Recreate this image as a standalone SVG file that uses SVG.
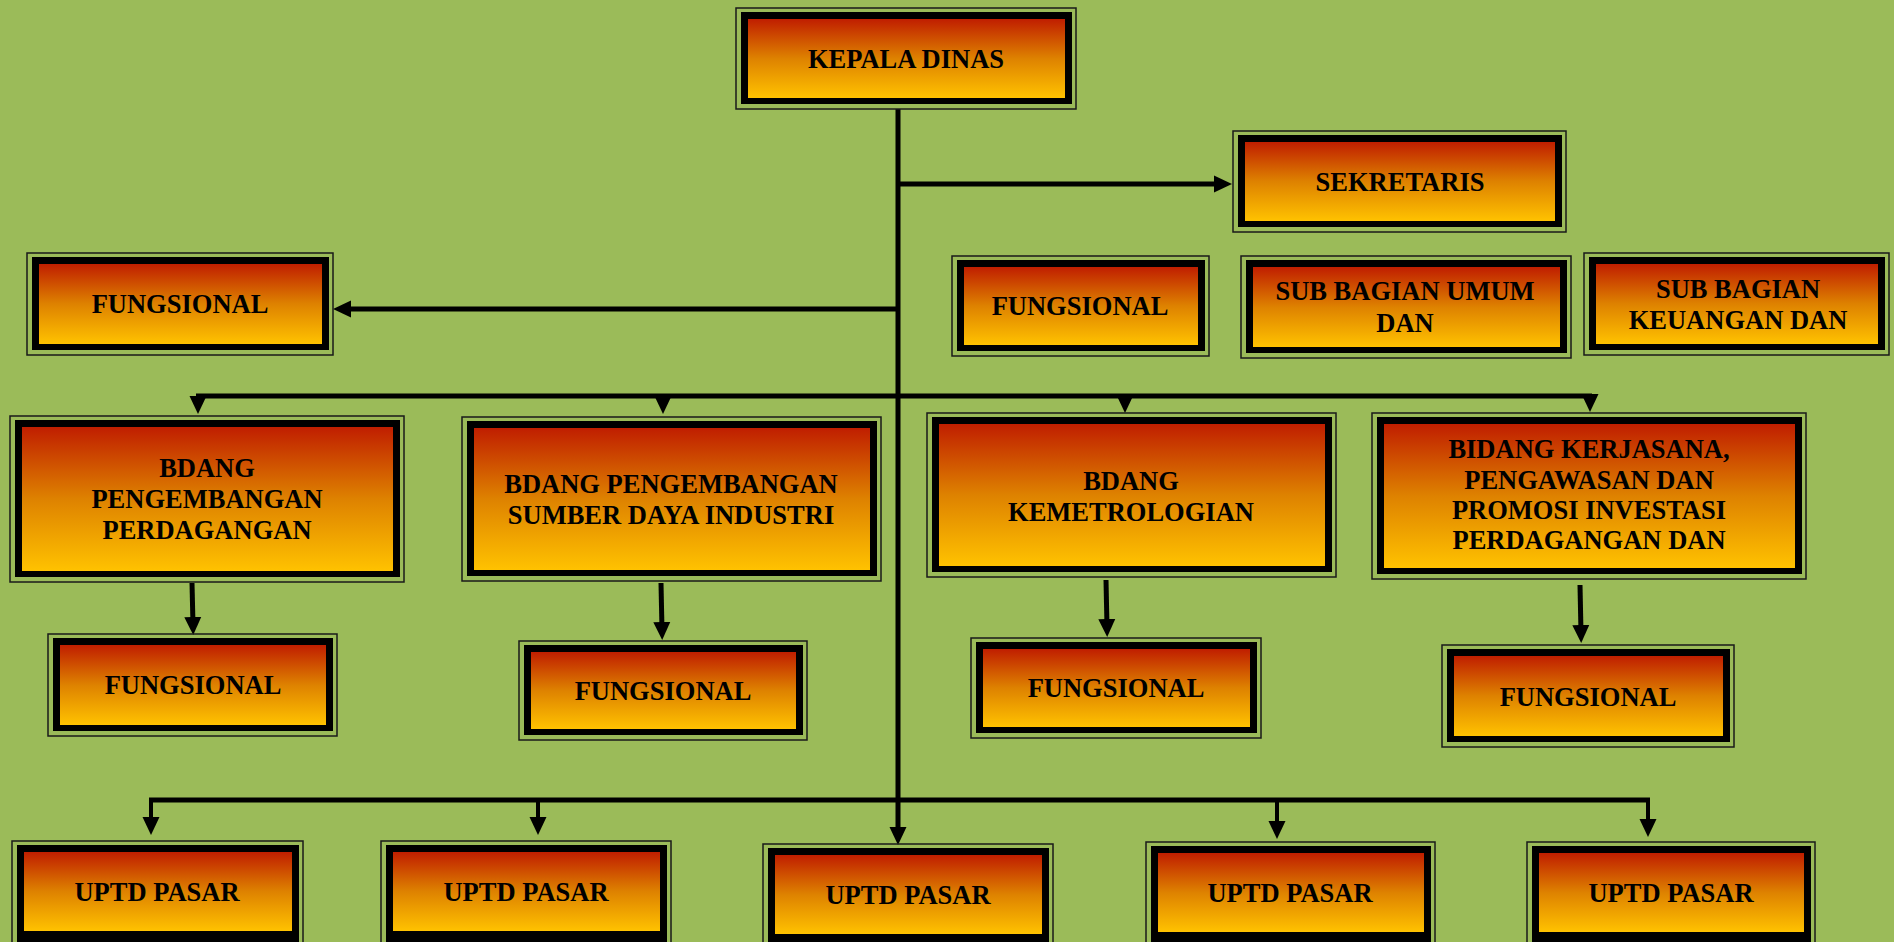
<svg xmlns="http://www.w3.org/2000/svg" width="1894" height="942" viewBox="0 0 1894 942">
<style>
.o{fill:none;stroke:#1a1a1a;stroke-width:1.5}
.b{fill:#000}
.g{fill:url(#grad)}
.t{font-family:"Liberation Serif","Times New Roman",serif;font-weight:bold;font-size:26.5px;fill:#000;text-anchor:middle}
.c{fill:none;stroke:#000;stroke-width:5}
.d{fill:none;stroke:#000;stroke-width:4}
</style>
<defs>
<linearGradient id="grad" x1="0" y1="0" x2="0" y2="1">
<stop offset="0" stop-color="#C01E00"/>
<stop offset="0.5" stop-color="#DE8200"/>
<stop offset="1" stop-color="#FFC200"/>
</linearGradient>
<marker id="ah" markerUnits="userSpaceOnUse" markerWidth="19" markerHeight="18" refX="8" refY="9" orient="auto">
<path d="M0,0.5 L18,9 L0,17.5 z" fill="#000"/>
</marker>
</defs>
<rect width="1894" height="942" fill="#9BBB59"/>

<g id="connectors">
<path class="c" d="M898,109 V835" marker-end="url(#ah)"/>
<path class="c" d="M898,184 H1222" marker-end="url(#ah)"/>
<path class="c" d="M898,309 H343" marker-end="url(#ah)"/>
<path class="c" d="M196,396 H1592"/>
<path class="d" d="M198,394 V404" marker-end="url(#ah)"/>
<path class="d" d="M663,394 V404" marker-end="url(#ah)"/>
<path class="d" d="M1125,394 V403" marker-end="url(#ah)"/>
<path class="d" d="M1590,394 V402" marker-end="url(#ah)"/>
<path class="c" d="M192,583 L193,625" marker-end="url(#ah)"/>
<path class="c" d="M661,583 L662,630" marker-end="url(#ah)"/>
<path class="c" d="M1106,580 L1107,627" marker-end="url(#ah)"/>
<path class="c" d="M1580,585 L1581,633" marker-end="url(#ah)"/>
<path class="c" d="M149,800 H1650"/>
<path class="d" d="M151,798 V825" marker-end="url(#ah)"/>
<path class="d" d="M538,798 V825" marker-end="url(#ah)"/>
<path class="d" d="M1277,798 V829" marker-end="url(#ah)"/>
<path class="d" d="M1648,798 V827" marker-end="url(#ah)"/>
</g>

<g id="kepala-dinas">
<rect class="o" x="736" y="8" width="340" height="101"/>
<rect class="b" x="741" y="12" width="331" height="92"/>
<rect class="g" x="748" y="19" width="317" height="79"/>
<text class="t" x="906" y="68">KEPALA DINAS</text>
</g>

<g id="sekretaris">
<rect class="o" x="1233" y="131" width="333" height="101"/>
<rect class="b" x="1238" y="135" width="324" height="92"/>
<rect class="g" x="1245" y="142" width="310" height="79"/>
<text class="t" x="1400" y="191">SEKRETARIS</text>
</g>

<g id="fungsional-kiri">
<rect class="o" x="27" y="253" width="306" height="102"/>
<rect class="b" x="32" y="257" width="297" height="93"/>
<rect class="g" x="39" y="264" width="283" height="80"/>
<text class="t" x="180" y="313">FUNGSIONAL</text>
</g>

<g id="fungsional-sekretariat">
<rect class="o" x="952" y="256" width="257" height="100"/>
<rect class="b" x="957" y="260" width="248" height="91"/>
<rect class="g" x="964" y="267" width="234" height="78"/>
<text class="t" x="1080" y="315">FUNGSIONAL</text>
</g>

<g id="sub-bagian-umum">
<rect class="o" x="1241" y="256" width="330" height="102"/>
<rect class="b" x="1246" y="260" width="321" height="93"/>
<rect class="g" x="1253" y="267" width="307" height="80"/>
<text class="t" x="1405" y="300">SUB BAGIAN UMUM</text>
<text class="t" x="1405" y="332">DAN</text>
</g>

<g id="sub-bagian-keuangan">
<rect class="o" x="1584" y="253" width="305" height="102"/>
<rect class="b" x="1589" y="257" width="296" height="93"/>
<rect class="g" x="1596" y="264" width="282" height="80"/>
<text class="t" x="1738" y="298">SUB BAGIAN</text>
<text class="t" x="1738" y="329">KEUANGAN DAN</text>
</g>

<g id="bidang-perdagangan">
<rect class="o" x="10" y="416" width="394" height="166"/>
<rect class="b" x="15" y="420" width="385" height="157"/>
<rect class="g" x="22" y="427" width="371" height="144"/>
<text class="t" x="207" y="477">BDANG</text>
<text class="t" x="207" y="508">PENGEMBANGAN</text>
<text class="t" x="207" y="539">PERDAGANGAN</text>
</g>

<g id="bidang-industri">
<rect class="o" x="462" y="417" width="419" height="164"/>
<rect class="b" x="467" y="421" width="410" height="155"/>
<rect class="g" x="474" y="428" width="396" height="142"/>
<text class="t" x="671" y="493">BDANG PENGEMBANGAN</text>
<text class="t" x="671" y="524">SUMBER DAYA INDUSTRI</text>
</g>

<g id="bidang-kemetrologian">
<rect class="o" x="927" y="413" width="409" height="164"/>
<rect class="b" x="932" y="417" width="400" height="155"/>
<rect class="g" x="939" y="424" width="386" height="142"/>
<text class="t" x="1131" y="490">BDANG</text>
<text class="t" x="1131" y="521">KEMETROLOGIAN</text>
</g>

<g id="bidang-kerjasana">
<rect class="o" x="1372" y="413" width="434" height="166"/>
<rect class="b" x="1377" y="417" width="425" height="157"/>
<rect class="g" x="1384" y="424" width="411" height="144"/>
<text class="t" x="1589" y="458">BIDANG KERJASANA,</text>
<text class="t" x="1589" y="489">PENGAWASAN DAN</text>
<text class="t" x="1589" y="519">PROMOSI INVESTASI</text>
<text class="t" x="1589" y="549">PERDAGANGAN DAN</text>
</g>

<g id="fungsional-1">
<rect class="o" x="48" y="634" width="289" height="102"/>
<rect class="b" x="53" y="638" width="280" height="93"/>
<rect class="g" x="60" y="645" width="266" height="80"/>
<text class="t" x="193" y="694">FUNGSIONAL</text>
</g>

<g id="fungsional-2">
<rect class="o" x="519" y="641" width="288" height="99"/>
<rect class="b" x="524" y="645" width="279" height="90"/>
<rect class="g" x="531" y="652" width="265" height="77"/>
<text class="t" x="663" y="700">FUNGSIONAL</text>
</g>

<g id="fungsional-3">
<rect class="o" x="971" y="638" width="290" height="100"/>
<rect class="b" x="976" y="642" width="281" height="91"/>
<rect class="g" x="983" y="649" width="267" height="78"/>
<text class="t" x="1116" y="697">FUNGSIONAL</text>
</g>

<g id="fungsional-4">
<rect class="o" x="1442" y="645" width="292" height="102"/>
<rect class="b" x="1447" y="649" width="283" height="93"/>
<rect class="g" x="1454" y="656" width="269" height="80"/>
<text class="t" x="1588" y="706">FUNGSIONAL</text>
</g>

<g id="uptd-1">
<rect class="o" x="12" y="841" width="291" height="110"/>
<rect class="b" x="17" y="845" width="282" height="101"/>
<rect class="g" x="24" y="852" width="268" height="79"/>
<text class="t" x="157" y="901">UPTD PASAR</text>
</g>

<g id="uptd-2">
<rect class="o" x="381" y="841" width="290" height="110"/>
<rect class="b" x="386" y="845" width="281" height="101"/>
<rect class="g" x="393" y="852" width="267" height="79"/>
<text class="t" x="526" y="901">UPTD PASAR</text>
</g>

<g id="uptd-3">
<rect class="o" x="763" y="844" width="290" height="110"/>
<rect class="b" x="768" y="848" width="281" height="101"/>
<rect class="g" x="775" y="855" width="267" height="79"/>
<text class="t" x="908" y="904">UPTD PASAR</text>
</g>

<g id="uptd-4">
<rect class="o" x="1146" y="842" width="289" height="110"/>
<rect class="b" x="1151" y="846" width="280" height="101"/>
<rect class="g" x="1158" y="853" width="266" height="79"/>
<text class="t" x="1290" y="902">UPTD PASAR</text>
</g>

<g id="uptd-5">
<rect class="o" x="1527" y="842" width="288" height="110"/>
<rect class="b" x="1532" y="846" width="279" height="101"/>
<rect class="g" x="1539" y="853" width="265" height="79"/>
<text class="t" x="1671" y="902">UPTD PASAR</text>
</g>
</svg>
